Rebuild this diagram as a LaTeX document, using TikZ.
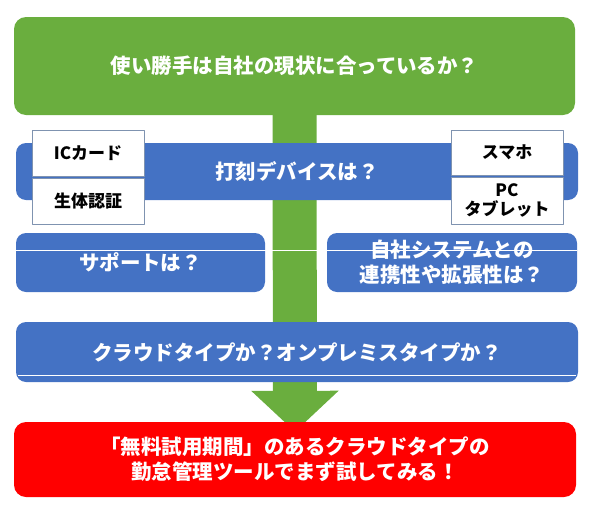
\documentclass[tikz,border=0pt]{standalone}
\usepackage{fontspec}
\setmainfont{Noto Sans CJK JP}
\usetikzlibrary{arrows.meta}
\pgfdeclarelayer{background}
\pgfsetlayers{background,main}
\definecolor{leaf}{HTML}{6AAE3E}
\definecolor{steel}{HTML}{4472C4}
\definecolor{alarm}{HTML}{FF0000}
\definecolor{rim}{HTML}{7F93B0}
\begin{document}
\begin{tikzpicture}[x=1pt,y=-1pt,line join=round,
	bar/.style={fill=steel,rounded corners=10pt,text=white,inner sep=0pt,align=center,font=\bfseries\fontsize{20.5}{25}\selectfont},
	tag/.style={draw=rim,fill=white,line width=0.8pt,inner sep=0pt,align=center,minimum width=112pt,font=\bfseries\fontsize{17}{19}\selectfont},
	sepline/.style={white,line width=1pt}]
	\useasboundingbox (0,0) rectangle (590,509);
	% question boxes
	\node[bar,fill=leaf,rounded corners=12pt,minimum width=561pt,minimum height=98pt] (usable) at (294.5,66) {使い勝手は自社の現状に合っているか？};
	\node[bar,minimum width=562pt,minimum height=57pt] (device) at (297,171.5) {打刻デバイスは？};
	\node[tag,minimum height=46pt] (card) at (88,153) {ICカード};
	\node[tag,minimum height=46pt] (bio) at (88,201) {生体認証};
	\node[tag,minimum height=45pt] (phone) at (507,152.5) {スマホ};
	\node[tag,minimum height=47pt] (tablet) at (507,200.5) {PC\\タブレット};
	\node[bar,minimum width=249pt,minimum height=59pt] (support) at (140.5,262.5) {サポートは？};
	\node[bar,minimum width=250pt,minimum height=59pt] (system) at (452,262.5) {自社システムとの\\連携性や拡張性は？};
	\node[bar,minimum width=562pt,minimum height=60pt] (type) at (297,352) {クラウドタイプか？オンプレミスタイプか？};
	\node[bar,fill=alarm,rounded corners=12pt,minimum width=562pt,minimum height=75pt] (goal) at (295,459.5) {「無料試用期間」のあるクラウドタイプの\\勤怠管理ツールでまず試してみる！};
	\draw[sepline] ([yshift=-18pt]support.north west) -- ([yshift=-18pt]system.north east);
	\draw[sepline] ([xshift=2pt,yshift=7pt]type.south west) -- ([xshift=-2pt,yshift=7pt]type.south east);
	% big arrow
	\begin{pgfonlayer}{background}
		\draw[leaf,line width=44pt,-{Triangle[length=41pt,width=85pt]}] ([yshift=5pt]usable.south) -- ([yshift=-10pt]goal.north);
	\end{pgfonlayer}
\end{tikzpicture}
\end{document}
